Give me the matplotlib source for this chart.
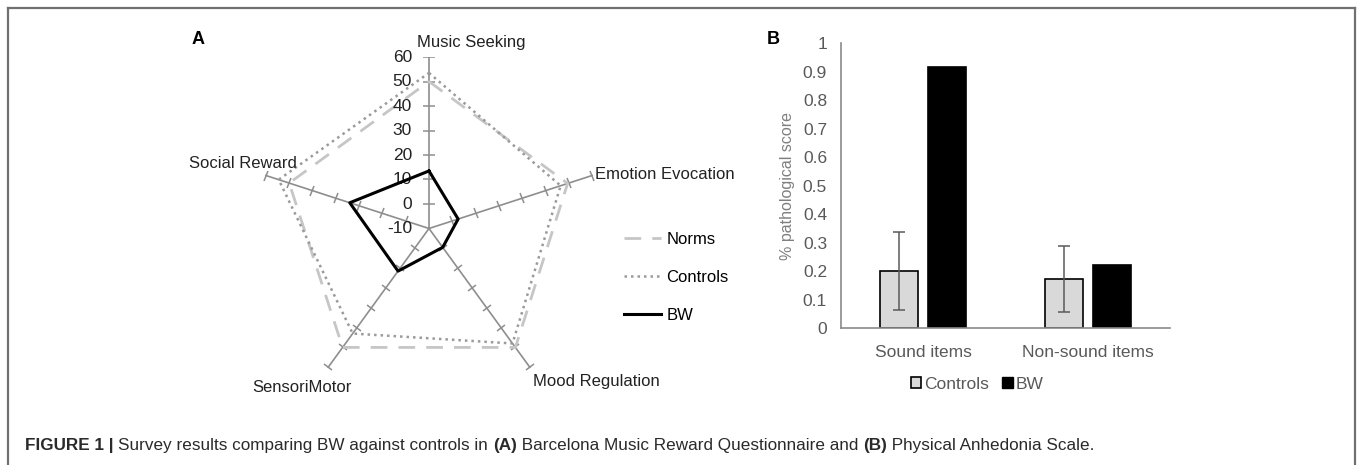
import numpy as np
import matplotlib
matplotlib.use("Agg")
import matplotlib.pyplot as plt
from matplotlib.markers import MarkerStyle
from matplotlib.transforms import Affine2D
from matplotlib.lines import Line2D
from matplotlib.patches import Patch

plt.rcParams['font.family'] = ['Liberation Sans', 'DejaVu Sans']

# ---------------- data ----------------
radar_categories = ["Music Seeking", "Emotion Evocation", "Mood Regulation",
                    "SensoriMotor", "Social Reward"]
norms = [50, 49.5, 50, 50, 50]
controls = [53.5, 46.5, 48, 43, 54.5]
bw_radar = [13.5, 2.5, -0.5, 11.5, 24]
radar_ticks = [-10, 0, 10, 20, 30, 40, 50, 60]

bar_categories = ["Sound items", "Non-sound items"]
controls_bar = [0.20, 0.172]
controls_err = [0.137, 0.115]
bw_bar = [0.915, 0.221]
bar_ticks = [0, 0.1, 0.2, 0.3, 0.4, 0.5, 0.6, 0.7, 0.8, 0.9, 1]
bar_tick_labels = ["0", "0.1", "0.2", "0.3", "0.4", "0.5", "0.6", "0.7", "0.8", "0.9", "1"]

W, H = 1357, 465
fig = plt.figure(figsize=(W / 100, H / 100), dpi=100)

def fx(x):
    return x / W

def fy(y):
    return 1 - y / H

# ---------------- frame ----------------
frame_c = "#707070"
fig.add_artist(Line2D([fx(8), fx(1355)], [fy(8), fy(8)], color=frame_c, lw=1.6))
fig.add_artist(Line2D([fx(8), fx(8)], [fy(8), 0], color=frame_c, lw=1.6))
fig.add_artist(Line2D([fx(1355), fx(1355)], [fy(8), 0], color=frame_c, lw=1.6))

# ---------------- Panel A: radar ----------------
cx, cy, R = 429, 228.5, 171.5
axA = fig.add_axes([fx(cx - R), fy(cy + R), 2 * R / W, 2 * R / H])
rmin, rmax = radar_ticks[0], radar_ticks[-1]
span = rmax - rmin
axA.set_xlim(-span, span)
axA.set_ylim(-span, span)
axA.set_aspect('equal')
axA.axis('off')

n = len(radar_categories)
theta = np.arange(n) * 2 * np.pi / n  # clockwise from top

def to_xy(vals):
    r = np.asarray(vals, dtype=float) - rmin
    x = r * np.sin(theta)
    y = r * np.cos(theta)
    return np.append(x, x[0]), np.append(y, y[0])

spoke_c = "#8e8e8e"
for th in theta:
    axA.plot([0, span * np.sin(th)], [0, span * np.cos(th)], color=spoke_c, lw=1.2, zorder=1)
    m = MarkerStyle('_', transform=Affine2D().rotate_deg(-np.degrees(th)))
    rr = np.array(radar_ticks[1:]) - rmin
    axA.plot(rr * np.sin(th), rr * np.cos(th), ls='none', marker=m,
             markersize=8, markeredgewidth=1.1, color=spoke_c, zorder=1)

for v in radar_ticks:
    axA.annotate(str(v), xy=(0, v - rmin), xytext=(-17, 0), textcoords='offset pixels',
                 ha='right', va='center', fontsize=12.5, color="#222222")

xn, yn = to_xy(norms)
ln_norms, = axA.plot(xn, yn, color="#c6c6c6", lw=2.0, dashes=(6, 4), zorder=2, label="Norms")
xc, yc = to_xy(controls)
ln_ctrl, = axA.plot(xc, yc, color="#9a9a9a", lw=1.8, ls=(0, (1, 1.6)), zorder=3, label="Controls")
xb, yb = to_xy(bw_radar)
ln_bw, = axA.plot(xb, yb, color="black", lw=2.2, zorder=4, label="BW")

# category labels
lab_pos = {"Music Seeking": (417, 42, 'left'),
           "Emotion Evocation": (595, 174, 'left'),
           "Mood Regulation": (533, 381, 'left'),
           "SensoriMotor": (252, 388, 'left'),
           "Social Reward": (189, 163, 'left')}
for cat in radar_categories:
    x, y, ha = lab_pos[cat]
    fig.text(fx(x), fy(y), cat, ha=ha, va='center', fontsize=12, color="#222222")

legA = fig.legend(handles=[ln_norms, ln_ctrl, ln_bw], loc='upper left',
                  bbox_to_anchor=(fx(624), fy(232)), frameon=False, fontsize=12,
                  handlelength=2.2, handletextpad=0.35, labelspacing=1.38, borderpad=0,
                  borderaxespad=0)

fig.text(fx(192), fy(40), "A", fontsize=13, fontweight='bold', ha='left', va='center')
fig.text(fx(767), fy(40), "B", fontsize=13, fontweight='bold', ha='left', va='center')

# ---------------- Panel B: bars ----------------
axB = fig.add_axes([fx(841), fy(328), (1170 - 841) / W, (328 - 43) / H])
xpos = np.arange(len(bar_categories))
bw_w = 0.23
off = 0.145
axB.bar(xpos - off, controls_bar, width=bw_w, color="#d9d9d9", edgecolor="black", linewidth=1.2,
        yerr=controls_err, error_kw=dict(ecolor="#5a5a5a", elinewidth=1.1, capsize=4, capthick=1.1),
        label="Controls", zorder=2)
axB.bar(xpos + off, bw_bar, width=bw_w, color="black", edgecolor="black", linewidth=1.2,
        label="BW", zorder=2)
axB.set_xlim(-0.5, 1.5)
axB.set_ylim(0, 1)
axB.set_yticks(bar_ticks)
axB.set_yticklabels(bar_tick_labels)
axB.set_xticks(xpos)
axB.set_xticklabels(bar_categories)
axB.tick_params(axis='both', length=0, labelsize=12.5, labelcolor="#595959")
axB.tick_params(axis='y', pad=10)
axB.tick_params(axis='x', pad=12)
for s in ['top', 'right']:
    axB.spines[s].set_visible(False)
for s in ['left', 'bottom']:
    axB.spines[s].set_color("#8a8a8a")
    axB.spines[s].set_linewidth(1.2)
axB.set_ylabel("% pathological score", fontsize=11.5, color="#7f7f7f", labelpad=6)
axB.patch.set_visible(False)

legB = fig.legend(handles=[Patch(facecolor="#d9d9d9", edgecolor="black", linewidth=1.2),
                           Patch(facecolor="black", edgecolor="black")],
                  labels=["Controls", "BW"], loc='center', ncol=2,
                  bbox_to_anchor=(fx(977), fy(384)), frameon=False, fontsize=12.5,
                  handlelength=0.6, handleheight=0.6, handletextpad=0.15, columnspacing=0.8,
                  labelcolor="#595959")

# ---------------- caption ----------------
cap = fig.add_axes([0, 0, 1, 1])
cap.axis('off')
cap.set_xlim(0, 1)
cap.set_ylim(0, 1)
parts = [("FIGURE 1 | ", 'bold'), ("Survey results comparing BW against controls in ", 'normal'),
         ("(A)", 'bold'), (" Barcelona Music Reward Questionnaire and ", 'normal'),
         ("(B)", 'bold'), (" Physical Anhedonia Scale.", 'normal')]
cap_font = ['Liberation Sans', 'DejaVu Sans']
prev = cap.text(fx(25), fy(445), parts[0][0], fontweight=parts[0][1], fontsize=12.3,
                ha='left', va='center', color="#2a2a2a", family=cap_font)
for txt, wt in parts[1:]:
    prev = cap.annotate(txt, xy=(1, 0.5), xycoords=prev, va='center', ha='left',
                        fontweight=wt, fontsize=12.3, color="#2a2a2a", family=cap_font)

fig.savefig("out.png", dpi=100)
